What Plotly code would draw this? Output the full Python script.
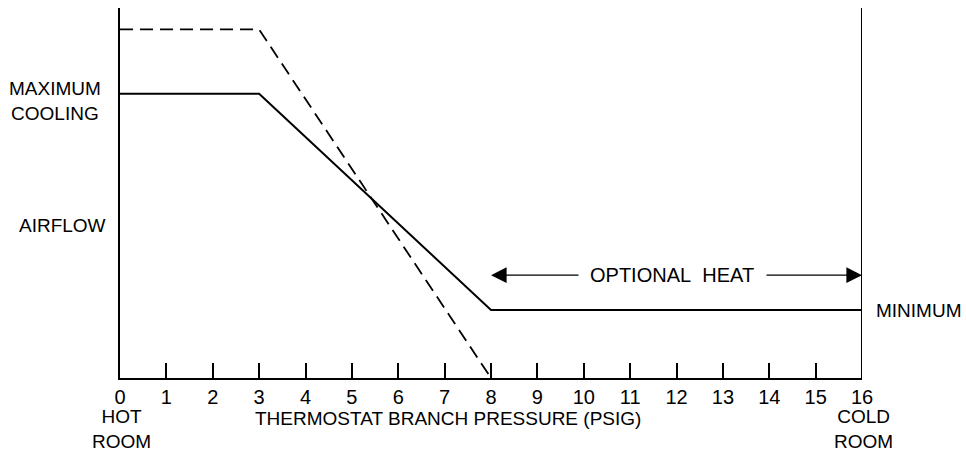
import plotly.graph_objects as go

# Data
pressure = [0, 3, 8, 16]
airflow_solid = [7.68, 7.68, 1.84, 1.84]
pressure_dash = [0, 3, 8]
airflow_dash = [9.42, 9.42, 0.0]
tick_vals = list(range(0, 17))
tick_text = [str(v) for v in tick_vals]
heat_start, heat_end, heat_level = 8, 16, 2.78

FONT = "Liberation Sans, Arial, sans-serif"

# target plot area in page pixels
L, R, T, B = 120, 862, 8, 378
W, H = 966, 453

fig = go.Figure()
fig.add_trace(go.Scatter(x=pressure, y=airflow_solid, mode="lines",
                         line=dict(color="black", width=2), showlegend=False, hoverinfo="skip"))
fig.add_trace(go.Scatter(x=pressure_dash, y=airflow_dash, mode="lines",
                         line=dict(color="black", width=1.8, dash="13px,7px"), showlegend=False, hoverinfo="skip"))

fig.update_layout(
    width=W, height=H,
    margin=dict(l=L, r=W - R, t=T, b=H - B, pad=0),
    paper_bgcolor="white", plot_bgcolor="white",
    font=dict(family=FONT, size=19, color="black"),
    xaxis=dict(range=[0, 16], tickvals=tick_vals, ticktext=tick_text,
               ticks="inside", ticklen=15, tickwidth=2, tickcolor="black",
               showline=True, linecolor="black", linewidth=2, showgrid=False, zeroline=False,
               tickfont=dict(size=20, family=FONT), fixedrange=True),
    yaxis=dict(range=[0, 10], showticklabels=False, ticks="", showline=True,
               linecolor="black", linewidth=2, showgrid=False, zeroline=False, fixedrange=True),
)
# Right vertical line
fig.add_shape(type="line", xref="x", yref="paper", x0=16, x1=16, y0=0, y1=1,
              line=dict(color="black", width=2))

pw = (R - L) / 16.0
def xd(pix):
    return (pix - L) / pw

# Optional heat arrows
fig.add_annotation(x=heat_end, y=heat_level, ax=xd(765), ay=heat_level, axref="x", ayref="y",
                   xref="x", yref="y", showarrow=True, arrowhead=2, arrowsize=2.4, arrowwidth=1.3,
                   arrowcolor="black", text="")
fig.add_annotation(x=heat_start, y=heat_level, ax=xd(580), ay=heat_level, axref="x", ayref="y",
                   xref="x", yref="y", showarrow=True, arrowhead=2, arrowsize=2.4, arrowwidth=1.3,
                   arrowcolor="black", text="")
fig.add_annotation(x=xd(672), y=heat_level, text="OPTIONAL&nbsp; HEAT", showarrow=False,
                   font=dict(size=20), xref="x", yref="y")

def px(pix):
    return (pix - L) / (R - L)
def py(pix):
    return (B - pix) / (B - T)

def ann(text, xp, yp):
    fig.add_annotation(text=text, x=px(xp), y=py(yp), xref="paper", yref="paper",
                       xanchor="center", yanchor="middle", showarrow=False, align="center",
                       font=dict(size=19))

ann("MAXIMUM<br>COOLING", 55, 101)
ann("AIRFLOW", 62, 225)
ann("MINIMUM", 918, 310)
ann("HOT<br>ROOM", 121, 429)
ann("COLD<br>ROOM", 863, 429)
ann("THERMOSTAT BRANCH PRESSURE (PSIG)", 448, 418)

fig.write_html("out.html", config={"displayModeBar": False, "staticPlot": True},
               post_script="document.body.style.margin='0';document.body.style.overflow='hidden';")
